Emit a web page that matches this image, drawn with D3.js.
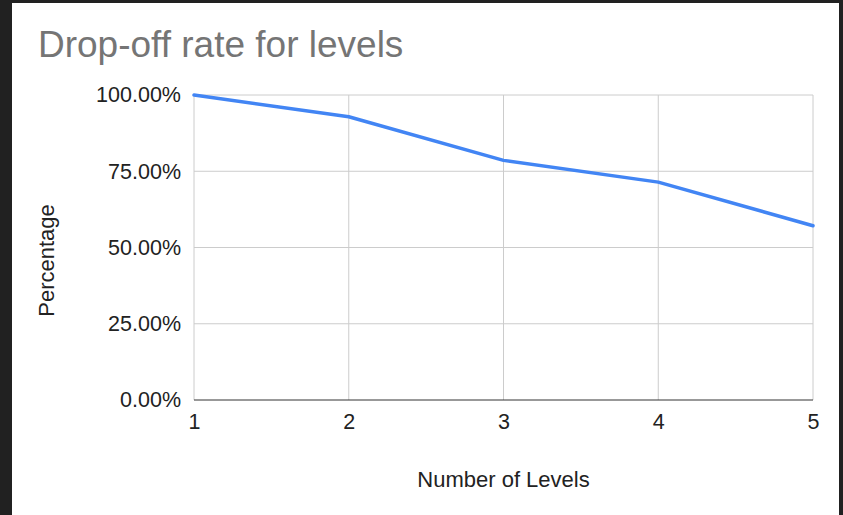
<!DOCTYPE html>
<html>
<head>
<meta charset="utf-8">
<script src="https://cdn.jsdelivr.net/npm/d3@7"></script>
<style>
  html, body { margin: 0; padding: 0; background: #212121; }
  svg { display: block; }
</style>
</head>
<body>
<svg id="chart" width="843" height="515"></svg>
<script>
// Share of players still playing at each level
const levels = [1, 2, 3, 4, 5];
const percentages = [100, 92.86, 78.57, 71.43, 57.14];
const yTicks = [0, 25, 50, 75, 100];
const xTicks = [1, 2, 3, 4, 5];

const svg = d3.select("#chart");
const W = 843, H = 515;

// white card on a dark background
svg.append("rect").attr("x", 0).attr("y", 0).attr("width", W).attr("height", H).attr("fill", "#212121");
svg.append("rect").attr("x", 12).attr("y", 3).attr("width", 827).attr("height", H - 3).attr("fill", "#ffffff");

const plot = { left: 194, right: 813, top: 95, bottom: 400 };

const x = d3.scaleLinear().domain([1, 5]).range([plot.left, plot.right]);
const y = d3.scaleLinear().domain([0, 100]).range([plot.bottom, plot.top]);

const font = "Arial, 'Liberation Sans', sans-serif";

// horizontal gridlines
svg.append("g")
  .selectAll("line")
  .data(yTicks.filter(d => d > 0))
  .join("line")
  .attr("x1", plot.left).attr("x2", plot.right)
  .attr("y1", d => y(d)).attr("y2", d => y(d))
  .attr("stroke", "#cccccc").attr("stroke-width", 1);

// vertical gridlines
svg.append("g")
  .selectAll("line")
  .data(xTicks)
  .join("line")
  .attr("x1", d => x(d)).attr("x2", d => x(d))
  .attr("y1", plot.top).attr("y2", plot.bottom)
  .attr("stroke", "#cccccc").attr("stroke-width", 1);

// baseline at 0%
svg.append("line")
  .attr("x1", plot.left).attr("x2", plot.right)
  .attr("y1", y(0)).attr("y2", y(0))
  .attr("stroke", "#333333").attr("stroke-width", 1);

// y axis labels
const yAxis = d3.axisLeft(y).tickValues(yTicks).tickSize(0).tickPadding(13)
  .tickFormat(d => d3.format(".2f")(d) + "%");
const gy = svg.append("g").attr("transform", `translate(${plot.left},0)`).call(yAxis);
gy.select(".domain").remove();
gy.selectAll("text").attr("font-family", font).attr("font-size", 21.5).attr("fill", "#222222");

// x axis labels
const xAxis = d3.axisBottom(x).tickValues(xTicks).tickSize(0).tickPadding(14).tickFormat(d3.format("d"));
const gx = svg.append("g").attr("transform", `translate(0,${plot.bottom})`).call(xAxis);
gx.select(".domain").remove();
gx.selectAll("text").attr("font-family", font).attr("font-size", 21.5).attr("fill", "#222222");

// data line
const line = d3.line().x((d, i) => x(levels[i])).y(d => y(d));
svg.append("path")
  .datum(percentages)
  .attr("d", line)
  .attr("fill", "none")
  .attr("stroke", "#4285f4")
  .attr("stroke-width", 3.5)
  .attr("stroke-linejoin", "round")
  .attr("stroke-linecap", "round");

// title
svg.append("text")
  .attr("x", 38).attr("y", 57)
  .attr("font-family", font).attr("font-size", 37)
  .attr("fill", "#757575")
  .text("Drop-off rate for levels");

// axis titles
svg.append("text")
  .attr("x", (plot.left + plot.right) / 2).attr("y", 487)
  .attr("text-anchor", "middle")
  .attr("font-family", font).attr("font-size", 22)
  .attr("fill", "#222222")
  .text("Number of Levels");

svg.append("text")
  .attr("transform", `translate(54,${(plot.top + plot.bottom) / 2 + 13}) rotate(-90)`)
  .attr("text-anchor", "middle")
  .attr("font-family", font).attr("font-size", 22)
  .attr("fill", "#222222")
  .text("Percentage");
</script>
</body>
</html>
